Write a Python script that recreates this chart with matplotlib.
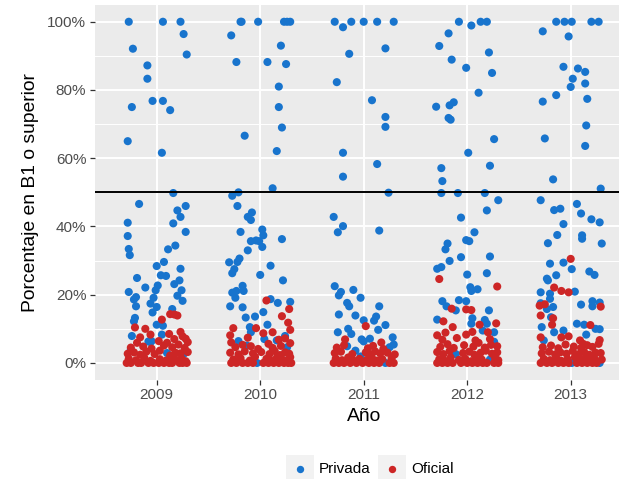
import numpy as np
import matplotlib
matplotlib.use("Agg")
import matplotlib.pyplot as plt
from matplotlib.patches import Rectangle
from matplotlib.lines import Line2D
from matplotlib.ticker import FuncFormatter

plt.rcParams['font.family'] = ['Liberation Sans', 'DejaVu Sans']

# Datos (porcentaje en B1 o superior, por colegio)
years = ['2009', '2010', '2011', '2012', '2013']

# --- 2009 ---
privada_2009 = [100, 100, 100, 96.4, 92.1, 90.4, 87.2, 83.3, 76.8, 76.8,
                75.0, 74.1, 65.0, 61.6, 49.8, 46.6, 41.1, 37.2, 33.4, 31.6,
                44.7, 46.0, 42.8, 40.9, 38.4, 34.4, 33.3, 28.4, 29.6, 25.7,
                25.5, 27.6, 24.9, 22.1, 22.7, 21.3, 23.1, 24.2, 21.3, 20.8,
                18.6, 19.3, 16.6, 19.1, 17.4, 16.4, 14.8, 19.7, 18.2, 15.8,
                13.2, 12.2, 11.2, 10.9, 7.9, 8.3, 6.3, 6.4, 3.9, 2.9,
                2.6, 6.1]
oficial_2009 = [10.4, 12.7, 14.3, 13.9, 14.2, 8.5, 10.0, 7.5, 8.3, 9.1,
                7.1, 6.1, 5.9,
                0, 0, 0, 0, 0, 0, 0, 0, 0, 0, 0, 0, 0,
                1.2, 0.8, 1.5, 0.6, 1.1, 0.7, 1.6, 0.9, 1.3, 0.5,
                2.7, 3.1, 2.4, 3.3, 2.6, 3.6, 2.2, 3.0, 2.8, 3.2,
                4.5, 4.8, 4.2, 5.1, 4.6, 5.4, 4.4,
                6.4, 5.9, 7.8, 7.0]

# --- 2010 ---
privada_2010 = [100, 100, 100, 100, 100, 100,
                96.0, 93.0, 88.2, 88.2, 87.6, 81.0, 75.0, 69.0, 66.6, 62.1,
                51.2, 49.0, 50.0,
                46.0, 42.8, 44.1, 41.9, 38.4, 39.1, 37.4, 35.7, 35.9, 35.7,
                36.3, 34.0, 33.0,
                30.6, 29.6, 29.5, 27.5, 26.3, 28.5, 25.8, 24.2, 22.6, 21.1,
                20.6, 21.1, 19.1,
                16.6, 16.3, 18.7, 17.6, 17.9, 14.9, 13.3, 13.6, 11.2, 10.5,
                9.0, 0,
                6.4, 5.1, 7.0, 7.9, 4.6, 6.6]
oficial_2010 = [18.3, 15.8, 13.7, 10.2, 10.2, 11.8, 9.7, 9.0, 8.1, 6.0, 8.7,
                0, 0, 0, 0, 0, 0, 0, 0, 0, 0, 0, 0,
                1.0, 1.4, 0.7, 1.8, 1.2, 0.6, 1.5, 1.1, 0.8, 1.7,
                3.0, 2.5, 3.4, 2.8, 3.2, 2.6, 3.5, 2.3, 3.1, 2.7,
                4.6, 5.3, 4.1, 5.6, 4.4, 5.0, 5.8, 4.9,
                7.4, 6.8, 7.2]

# --- 2011 ---
privada_2011 = [100, 98.4, 100, 100, 100, 100, 92.2, 90.6, 82.3, 77.0,
                72.1, 69.2, 61.6, 58.3, 54.6, 49.9,
                42.8, 40.1, 38.3, 38.8, 22.5, 20.8, 19.8, 21.4, 19.1, 17.6,
                16.6, 16.6, 14.2, 13.9, 12.5, 13.6, 12.4, 11.1, 9.7, 9.0,
                10.0, 8.5, 7.5, 6.9, 7.1, 5.4, 1.9, 0, 4.9, 6.3,
                3.6, 4.6]
oficial_2011 = [10.8, 6.0, 6.9,
                0, 0, 0, 0, 0, 0, 0, 0, 0, 0, 0,
                1.3, 0.8, 1.6, 0.6, 1.2, 0.9, 1.5, 0.7, 1.1, 1.4,
                2.9, 3.3, 2.6, 3.1, 2.4, 3.4, 2.8, 3.0, 2.5,
                4.5, 5.2, 4.3, 5.0, 4.1]

# --- 2012 ---
privada_2012 = [100, 98.9, 100, 100, 96.6, 92.9, 91.0, 88.9, 86.5, 85.0,
                79.2, 75.1, 75.5, 76.4, 71.8, 71.3, 65.6, 61.6, 57.1, 57.8,
                53.3, 49.8, 49.8, 49.8, 47.7,
                42.6, 44.7, 38.3, 35.0, 33.3, 36.0, 35.7, 31.2, 29.9, 31.0,
                27.6, 28.1, 25.9, 26.3, 22.2, 21.6, 21.1, 18.1, 16.6, 18.4,
                18.1, 15.4, 15.4, 12.7, 13.1, 11.5, 12.6, 11.5, 9.5, 9.0,
                6.2, 2.6, 1.0]
oficial_2012 = [24.6, 22.4, 15.9, 15.7, 15.5, 12.2, 10.5, 11.2, 11.6, 8.1,
                8.9, 8.3, 9.1, 9.0,
                0, 0, 0, 0, 0, 0, 0, 0, 0, 0, 0, 0,
                1.1, 0.7, 1.6, 0.9, 1.3, 0.5, 1.8, 1.0, 1.4, 0.8,
                3.2, 2.6, 3.5, 2.9, 3.3, 2.4, 3.0, 3.6, 2.7, 3.1,
                4.7, 5.5, 4.4, 5.2, 4.8, 5.9, 4.5, 5.3, 4.9,
                6.8, 7.3, 6.6, 7.0]

# --- 2013 ---
privada_2013 = [100, 100, 100, 100, 100, 97.2, 95.7, 86.8, 86.3, 85.3,
                83.3, 81.9, 80.9, 78.5, 76.6, 77.4, 69.6, 65.8, 63.6, 53.8,
                51.1, 47.7,
                44.8, 45.2, 46.6, 43.8, 42.1, 41.2, 40.7, 37.5, 35.1, 37.4,
                36.4, 35.0, 29.1, 29.4, 27.5, 25.7, 24.7, 24.2, 26.8, 25.8,
                20.7, 20.3, 18.8, 20.9, 17.1, 18.1, 17.7, 16.6, 17.5, 15.8,
                16.4, 13.4, 11.5, 11.2, 10.0, 9.9, 10.5, 9.5, 9.0, 8.3,
                6.6, 0, 0]
oficial_2013 = [30.5, 22.1, 21.1, 20.7, 16.8, 17.2, 13.9, 16.5, 13.1, 11.2,
                11.1, 6.7, 7.5, 7.5, 7.8, 6.6, 5.6,
                0, 0, 0, 0, 0, 0, 0, 0, 0, 0, 0,
                1.2, 0.8, 1.5, 0.6, 1.1, 1.7, 0.9, 1.4, 0.7, 1.3, 1.0,
                2.8, 3.3, 2.5, 3.1, 2.7, 3.5, 2.6, 3.2, 2.4, 3.0, 2.9,
                4.6, 5.1, 4.3, 5.4, 4.8, 4.4, 5.2, 4.7, 5.6]

# jitter horizontal (mismo orden que los valores)
jit_privada_2009 = [-0.27, 0.06, 0.23, 0.26, -0.23, 0.29, -0.09, -0.09, -0.04, 0.06,
                    -0.24, 0.13, -0.28, 0.05, 0.16, -0.17, -0.28, -0.28, -0.27, -0.26,
                    0.20, 0.28, 0.23, 0.16, 0.28, 0.18, 0.11, 0.00, 0.07, 0.04,
                    0.09, 0.23, -0.19, -0.11, 0.01, -0.01, 0.17, 0.22, 0.24, -0.27,
                    -0.22, -0.20, -0.20, -0.03, -0.06, 0.00, -0.04, 0.20, 0.25, 0.15,
                    -0.21, -0.22, 0.00, 0.06, -0.24, 0.05, -0.08, -0.05, -0.25, 0.10,
                    0.26, -0.06]
jit_oficial_2009 = [-0.21, 0.05, 0.13, 0.20, 0.17, 0.12, -0.11, -0.16, -0.06, 0.23,
                    0.28, 0.30, -0.19,
                    -0.29, -0.25, -0.18, -0.15, -0.08, -0.03, 0.02, 0.07, 0.12, 0.15, 0.22, 0.25, 0.29,
                    -0.27, -0.20, -0.12, -0.06, 0.03, 0.09, 0.14, 0.19, 0.24, 0.28,
                    -0.28, -0.22, -0.16, -0.10, -0.02, 0.03, 0.13, 0.18, 0.23, 0.30,
                    -0.25, -0.13, -0.05, 0.07, 0.15, 0.21, 0.27,
                    0.02, 0.10, 0.25, 0.17]
jit_privada_2010 = [-0.19, -0.18, -0.02, 0.23, 0.26, 0.29,
                    -0.28, 0.20, -0.23, 0.07, 0.25, 0.18, 0.18, 0.21, -0.15, 0.16,
                    0.12, -0.27, -0.21,
                    -0.22, -0.12, -0.08, -0.09, -0.19, 0.02, 0.03, -0.09, -0.04, -0.01,
                    0.21, 0.02, -0.12,
                    -0.20, -0.22, -0.30, -0.25, -0.27, 0.10, 0.00, 0.22, -0.17, -0.16,
                    -0.27, -0.23, -0.24,
                    -0.29, -0.17, 0.10, 0.17, 0.29, 0.03, -0.14, -0.05, 0.07, -0.10,
                    -0.09, -0.03,
                    -0.21, -0.13, 0.04, 0.24, 0.26, 0.16]
jit_oficial_2010 = [0.06, 0.28, 0.21, -0.26, -0.04, 0.27, 0.29, 0.12, -0.29, -0.28, 0.03,
                    -0.28, -0.23, -0.17, -0.12, -0.07, 0.03, 0.08, 0.13, 0.18, 0.23, 0.27, 0.30,
                    -0.26, -0.19, -0.10, -0.05, 0.06, 0.11, 0.16, 0.21, 0.26, 0.29,
                    -0.29, -0.21, -0.15, -0.07, 0.01, 0.09, 0.14, 0.19, 0.24, 0.28,
                    -0.24, -0.17, -0.02, 0.08, 0.12, 0.20, 0.29, -0.09,
                    -0.12, 0.18, 0.24]
jit_privada_2011 = [-0.28, -0.20, -0.12, 0.00, 0.13, 0.29, 0.21, -0.14, -0.26, 0.08,
                    0.21, 0.21, -0.20, 0.13, -0.20, 0.24,
                    -0.29, -0.20, -0.25, 0.15, -0.28, -0.22, -0.24, -0.10, -0.03, -0.16,
                    -0.14, 0.15, -0.24, -0.08, 0.00, 0.12, 0.10, 0.21, 0.14, -0.25,
                    -0.15, -0.12, 0.28, -0.02, 0.06, 0.29, -0.03, 0.21, -0.16, 0.00,
                    -0.08, 0.25]
jit_oficial_2011 = [0.02, 0.17, -0.18,
                    -0.29, -0.24, -0.19, -0.13, -0.07, -0.01, 0.05, 0.10, 0.15, 0.25, 0.29,
                    -0.27, -0.21, -0.15, -0.09, -0.04, 0.03, 0.08, 0.13, 0.18, 0.27,
                    -0.28, -0.22, -0.11, 0.02, 0.07, 0.11, 0.16, 0.23, 0.30,
                    -0.26, -0.19, 0.04, 0.09, 0.19]
jit_privada_2012 = [-0.08, 0.04, 0.13, 0.19, -0.18, -0.27, 0.21, -0.15, -0.01, 0.24,
                    0.11, -0.30, -0.17, -0.13, -0.18, -0.16, 0.26, 0.01, -0.25, 0.22,
                    -0.24, -0.25, -0.09, 0.17, 0.30,
                    -0.06, 0.19, 0.07, -0.19, -0.21, -0.01, 0.02, 0.22, -0.17, -0.06,
                    -0.29, -0.25, 0.00, 0.19, 0.03, 0.10, 0.04, -0.24, -0.20, -0.08,
                    -0.01, -0.11, 0.21, -0.29, 0.05, 0.04, 0.17, 0.19, 0.15, 0.26,
                    0.26, -0.11, 0.22]
jit_oficial_2012 = [-0.27, 0.29, -0.15, -0.01, 0.04, -0.23, -0.14, 0.12, 0.28, -0.29,
                    -0.21, -0.01, 0.05, 0.20,
                    -0.29, -0.24, -0.19, -0.14, -0.06, 0.00, 0.05, 0.10, 0.15, 0.19, 0.26, 0.30,
                    -0.27, -0.22, -0.16, -0.08, -0.02, 0.04, 0.09, 0.14, 0.27, 0.30,
                    -0.29, -0.23, -0.17, -0.04, 0.02, 0.07, 0.13, 0.18, 0.24, 0.29,
                    -0.26, -0.19, -0.13, -0.03, 0.06, 0.11, 0.17, 0.23, 0.29,
                    -0.24, -0.10, 0.08, 0.22]
jit_privada_2013 = [-0.14, -0.06, 0.01, 0.20, 0.27, -0.27, -0.02, -0.07, 0.07, 0.14,
                    0.02, 0.14, 0.00, -0.14, -0.27, 0.16, 0.15, -0.25, 0.14, -0.17,
                    0.29, -0.29,
                    -0.16, -0.10, 0.06, 0.10, 0.20, 0.28, -0.07, -0.13, -0.22, 0.11,
                    0.11, 0.30, -0.20, -0.07, 0.01, -0.14, -0.23, -0.22, 0.18, 0.23,
                    -0.29, -0.20, -0.20, 0.04, 0.10, 0.21, 0.28, 0.21, -0.29, -0.23,
                    -0.17, -0.19, 0.06, 0.13, 0.24, 0.28, -0.28, -0.07, -0.16, 0.15,
                    -0.26, 0.01, 0.28]
jit_oficial_2013 = [0.00, -0.16, -0.09, -0.02, -0.30, -0.25, -0.29, 0.29, -0.17, -0.18,
                    0.19, 0.28, -0.29, -0.09, -0.02, 0.09, 0.12,
                    -0.29, -0.23, -0.18, -0.12, -0.07, -0.02, 0.06, 0.11, 0.16, 0.21, 0.25,
                    -0.26, -0.20, -0.14, -0.09, -0.03, 0.04, 0.09, 0.14, 0.19, 0.23, 0.30,
                    -0.28, -0.21, -0.15, -0.10, -0.04, 0.02, 0.08, 0.13, 0.18, 0.24, 0.29,
                    -0.27, -0.19, -0.12, -0.05, 0.03, 0.10, 0.16, 0.21, 0.27]

privada = [privada_2009, privada_2010, privada_2011, privada_2012, privada_2013]
oficial = [oficial_2009, oficial_2010, oficial_2011, oficial_2012, oficial_2013]
jit_privada = [jit_privada_2009, jit_privada_2010, jit_privada_2011, jit_privada_2012, jit_privada_2013]
jit_oficial = [jit_oficial_2009, jit_oficial_2010, jit_oficial_2011, jit_oficial_2012, jit_oficial_2013]

for a, b in zip(privada + oficial, jit_privada + jit_oficial):
    assert len(a) == len(b), (len(a), len(b))

umbral = 0.5
color_privada = '#1874CD'
color_oficial = '#CD2626'

W, H = 619, 479
fig = plt.figure(figsize=(W / 100, H / 100), dpi=100)
# el panel sale por la derecha, como en la imagen original
ax = fig.add_axes([94.6 / W, 1 - 380 / H, 538.2 / W, 375.3 / H])
ax.set_facecolor('#EBEBEB')
for s in ax.spines.values():
    s.set_visible(False)

ax.set_xlim(-0.6, 4.6)
ax.set_ylim(-0.05, 1.05)
ax.set_xticks(range(len(years)))
ax.set_xticklabels(years)
ax.set_yticks([0, 0.2, 0.4, 0.6, 0.8, 1.0])
ax.set_yticks([0.1, 0.3, 0.5, 0.7, 0.9], minor=True)
ax.yaxis.set_major_formatter(FuncFormatter(lambda v, p: '%d%%' % round(v * 100)))
ax.grid(which='major', color='white', linewidth=1.4)
ax.grid(which='minor', axis='y', color='white', linewidth=0.7)
ax.set_axisbelow(True)
ax.tick_params(which='major', length=3.5, width=0.9, color='#333333',
               labelcolor='#4D4D4D', labelsize=11, pad=2.5)
ax.tick_params(which='minor', length=0)

for i in range(len(years)):
    ax.scatter(i + np.array(jit_privada[i]), np.array(privada[i]) / 100,
               s=34, color=color_privada, edgecolors='none', zorder=3)
for i in range(len(years)):
    ax.scatter(i + np.array(jit_oficial[i]), np.array(oficial[i]) / 100,
               s=34, color=color_oficial, edgecolors='none', zorder=3)

ax.axhline(umbral, color='black', linewidth=1.4, zorder=4)

ax.set_xlabel('Año', fontsize=13.9, labelpad=4)
ax.set_ylabel('Porcentaje en B1 o superior', fontsize=13.9, labelpad=6)

# leyenda abajo, al estilo ggplot
def px(x, y):
    return x / W, 1 - y / H

for x0, col, lab in [(286, color_privada, 'Privada'), (378, color_oficial, 'Oficial')]:
    fig.add_artist(Rectangle(px(x0, 483), 28 / W, 28 / H, transform=fig.transFigure,
                             facecolor='#F2F2F2', edgecolor='none'))
    fig.add_artist(Line2D([px(x0 + 14, 469)[0]], [px(x0 + 14, 469)[1]], marker='o',
                          markersize=5.3, color=col, markeredgewidth=0,
                          transform=fig.transFigure))
    fig.text(*px(x0 + 33, 469), lab, fontsize=11, va='center', ha='left')

fig.savefig('out.png', dpi=100)
